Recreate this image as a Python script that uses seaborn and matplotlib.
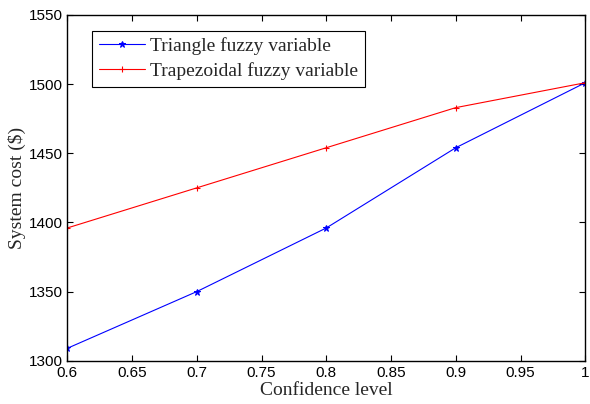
import numpy as np
import matplotlib
matplotlib.use("Agg")
import matplotlib.pyplot as plt
import seaborn as sns

# confidence levels and system cost
levels = [0.6, 0.7, 0.8, 0.9, 1.0]
triangle = [1309, 1350, 1396, 1454, 1501]
trapezoid = [1396, 1425, 1454, 1483, 1501]

sns.set_style("white")
plt.rcParams['font.family'] = ['Liberation Sans', 'DejaVu Sans']

fig, ax = plt.subplots(figsize=(5.9, 4.04), dpi=100)
fig.subplots_adjust(left=0.114, right=0.992, top=0.963, bottom=0.107)

sns.lineplot(x=levels, y=triangle, color="#0000ff", marker="*", markersize=5,
             markeredgecolor="#0000ff", linewidth=0.8, label="Triangle fuzzy variable", ax=ax)
sns.lineplot(x=levels, y=trapezoid, color="#ff0000", marker="+", markersize=5,
             markeredgecolor="#ff0000", markeredgewidth=0.8, linewidth=0.8,
             label="Trapezoidal fuzzy variable", ax=ax)

ax.set_xlim(0.6, 1.0)
ax.set_ylim(1300, 1550)
ax.set_xticks(np.arange(0.6, 1.001, 0.05))
ax.set_xticklabels(["0.6", "0.65", "0.7", "0.75", "0.8", "0.85", "0.9", "0.95", "1"])
ax.set_yticks(np.arange(1300, 1551, 50))
ax.tick_params(direction="in", length=4, width=0.8, top=True, right=True,
               bottom=True, left=True, labelsize=11, colors="black")
for s in ax.spines.values():
    s.set_color("black")
    s.set_linewidth(1.0)

ax.set_xlabel("Confidence level", family="Liberation Serif", fontsize=14, labelpad=2)
ax.set_ylabel("System cost ($)", family="Liberation Serif", fontsize=14, labelpad=2)

leg = ax.legend(loc="upper left", bbox_to_anchor=(0.048, 0.955), fancybox=False,
                edgecolor="black", framealpha=1, prop={"family": "Liberation Serif", "size": 14},
                borderpad=0.35, labelspacing=0.35, handlelength=2.35, handletextpad=0.3,
                borderaxespad=0)
leg.get_frame().set_linewidth(0.8)

fig.savefig("out.png", dpi=100)
